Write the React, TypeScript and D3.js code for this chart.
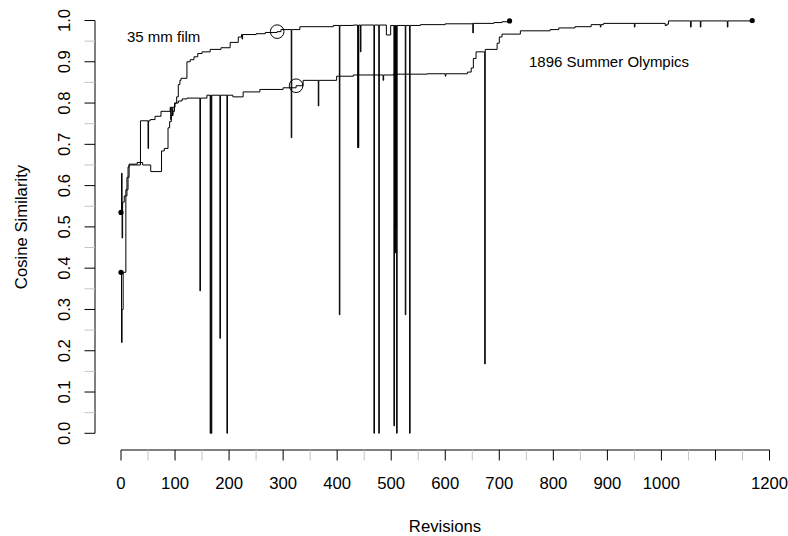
import React from "react";
import * as d3 from "d3";

// ---- axis ticks ----
const xMajorTicks = [0, 100, 200, 300, 400, 500, 600, 700, 800, 900, 1000, 1100, 1200];
const xTickLabels = ["0", "100", "200", "300", "400", "500", "600", "700", "800", "900", "1000", "", "1200"];
const xMinorTicks = [50, 150, 250, 350, 450, 550, 650, 750, 850, 950, 1050, 1150];
const yMajorTicks = [0, 0.1, 0.2, 0.3, 0.4, 0.5, 0.6, 0.7, 0.8, 0.9, 1.0];
const yTickLabels = ["0.0", "0.1", "0.2", "0.3", "0.4", "0.5", "0.6", "0.7", "0.8", "0.9", "1.0"];
const yMinorTicks = [0.05, 0.15, 0.25, 0.35, 0.45, 0.55, 0.65, 0.75, 0.85, 0.95];

// ---- series: "35 mm film" ----
const filmRev = [0, 1, 2, 3, 6, 9, 11, 13, 15, 30, 40, 55, 75, 80, 87, 90, 93, 96, 99, 103, 106, 109, 111, 122, 128, 135, 142, 150, 165, 185, 202, 217, 223, 250, 267, 289, 296, 331, 393, 430, 491, 499, 554, 600, 650, 690, 705, 719];
const filmVal = [0.535, 0.63, 0.473, 0.56, 0.575, 0.59, 0.62, 0.645, 0.652, 0.656, 0.65, 0.634, 0.684, 0.69, 0.74, 0.755, 0.77, 0.78, 0.8, 0.815, 0.845, 0.855, 0.86, 0.9, 0.905, 0.912, 0.92, 0.924, 0.93, 0.934, 0.947, 0.96, 0.966, 0.968, 0.971, 0.973, 0.978, 0.985, 0.988, 0.989, 0.965, 0.988, 0.99, 0.992, 0.993, 0.995, 0.997, 0.999];
const filmDipRev = [224, 315, 404, 438, 439, 443, 468, 477, 505, 507, 508, 510, 526, 534, 651];
const filmDipVal = [0.955, 0.716, 0.287, 0.692, 0.692, 0.924, 0.0, 0.0, 0.018, 0.437, 0.5, 0.0, 0.287, 0.0, 0.97];

// ---- series: "1896 Summer Olympics" ----
const olyRev = [0, 1, 2, 4, 9, 11, 13, 15, 36, 54, 63, 74, 91, 100, 106, 113, 122, 159, 207, 226, 257, 300, 324, 337, 399, 430, 504, 567, 641, 648, 652, 657, 674, 696, 700, 705, 739, 794, 810, 840, 870, 893, 1007, 1010, 1013, 1168];
const olyVal = [0.39, 0.22, 0.3, 0.39, 0.575, 0.59, 0.62, 0.65, 0.757, 0.76, 0.768, 0.78, 0.79, 0.8, 0.805, 0.81, 0.812, 0.819, 0.815, 0.827, 0.833, 0.837, 0.842, 0.855, 0.865, 0.868, 0.87, 0.871, 0.875, 0.885, 0.908, 0.924, 0.93, 0.945, 0.96, 0.967, 0.975, 0.978, 0.982, 0.985, 0.99, 0.993, 0.988, 0.991, 0.999, 1.0];
const olyDipRev = [50, 92, 95, 146, 165, 167, 183, 196, 365, 485, 600, 673, 887, 950, 1054, 1072, 1122];
const olyDipVal = [0.69, 0.76, 0.77, 0.345, 0.0, 0.0, 0.23, 0.0, 0.793, 0.855, 0.865, 0.168, 0.984, 0.984, 0.984, 0.984, 0.984];

// ---- highlighted points (open circles) ----
const circleRev = [289, 324];
const circleVal = [0.973, 0.842];

const seriesNames = ["35 mm film", "1896 Summer Olympics"];

type P = [number, number];

function buildSeries(rev: number[], val: number[], dipRev: number[], dipVal: number[]): P[] {
  const base: P[] = rev.map((r, i) => [r, val[i]]);
  const baseAt = (r: number) => {
    let v = base[0][1];
    for (const p of base) {
      if (p[0] <= r) v = p[1];
      else break;
    }
    return v;
  };
  const pts: P[] = [...base];
  dipRev.forEach((r, i) => {
    pts.push([r, dipVal[i]]);
    pts.push([r + 1, baseAt(r + 1)]);
  });
  // keep dips after base points at same revision
  const order = pts.map((p, i) => ({ p, i }));
  order.sort((a, b) => (a.p[0] - b.p[0]) || (a.i - b.i));
  const out: P[] = [];
  for (const o of order) {
    if (out.length && out[out.length - 1][0] === o.p[0] && o.i < base.length) {
      // base point coinciding with a dip return: keep the later (dip) value ordering
      out.push(o.p);
    } else out.push(o.p);
  }
  return out;
}

export default function App() {
  const W = 788;
  const H = 536;
  const x = d3.scaleLinear().domain([0, 1200]).range([121, 769.5]);
  const y = d3.scaleLinear().domain([0, 1]).range([433.3, 20.5]);
  const line = d3
    .line<P>()
    .x((d) => x(d[0]))
    .y((d) => y(d[1]))
    .curve(d3.curveStepAfter);

  const film = buildSeries(filmRev, filmVal, filmDipRev, filmDipVal);
  const oly = buildSeries(olyRev, olyVal, olyDipRev, olyDipVal);
  const series = [film, oly];

  const font = "'Liberation Sans', Arial, Helvetica, sans-serif";
  const axisY = 450;
  const axisX = 95;
  const tickLen = 10.5;

  return (
    <svg
      width={W}
      height={H}
      viewBox={`0 0 ${W} ${H}`}
      style={{ position: "absolute", left: 0, top: 0, background: "#fff" }}
      fontFamily={font}
    >
      <rect x={0} y={0} width={W} height={H} fill="#fff" />

      {/* series lines */}
      {series.map((s, i) => (
        <path key={i} d={line(s) || ""} fill="none" stroke="#000" strokeWidth={1} />
      ))}

      {/* start / end dots */}
      {series.map((s, i) => (
        <g key={"d" + i}>
          <circle cx={x(s[0][0])} cy={y(s[0][1])} r={2.6} fill="#000" />
          <circle cx={x(s[s.length - 1][0])} cy={y(s[s.length - 1][1])} r={2.6} fill="#000" />
        </g>
      ))}

      {/* open circles */}
      {circleRev.map((r, i) => (
        <circle key={"c" + i} cx={x(r)} cy={y(circleVal[i])} r={6.8} fill="none" stroke="#000" strokeWidth={1} />
      ))}

      {/* series labels */}
      <text x={127} y={42} fontSize={15} fill="#000">{seriesNames[0]}</text>
      <text x={529} y={67.3} fontSize={15} fill="#000">{seriesNames[1]}</text>

      {/* x axis */}
      <line x1={x(0)} x2={x(1200)} y1={axisY} y2={axisY} stroke="#000" strokeWidth={1} />
      {xMinorTicks.map((t) => (
        <line key={"xm" + t} x1={x(t)} x2={x(t)} y1={axisY} y2={axisY + tickLen} stroke="#c4c4c4" strokeWidth={1} />
      ))}
      {xMajorTicks.map((t) => (
        <line key={"xt" + t} x1={x(t)} x2={x(t)} y1={axisY} y2={axisY + tickLen} stroke="#000" strokeWidth={1} />
      ))}
      {xMajorTicks.map((t, i) => (
        <text key={"xl" + t} x={x(t)} y={489.3} fontSize={16.7} textAnchor="middle" fill="#000">
          {xTickLabels[i]}
        </text>
      ))}
      <text x={445} y={531.5} fontSize={16.7} textAnchor="middle" fill="#000">Revisions</text>

      {/* y axis */}
      <line x1={axisX} x2={axisX} y1={y(0)} y2={y(1)} stroke="#000" strokeWidth={1} />
      {yMinorTicks.map((t) => (
        <line key={"ym" + t} x1={axisX - tickLen} x2={axisX} y1={y(t)} y2={y(t)} stroke="#c4c4c4" strokeWidth={1} />
      ))}
      {yMajorTicks.map((t) => (
        <line key={"yt" + t} x1={axisX - tickLen} x2={axisX} y1={y(t)} y2={y(t)} stroke="#000" strokeWidth={1} />
      ))}
      {yMajorTicks.map((t, i) => (
        <text
          key={"yl" + t}
          transform={`translate(70,${y(t)}) rotate(-90)`}
          fontSize={16.7}
          textAnchor="middle"
          fill="#000"
        >
          {yTickLabels[i]}
        </text>
      ))}
      <text
        transform={`translate(27,227) rotate(-90)`}
        fontSize={16.7}
        textAnchor="middle"
        fill="#000"
      >
        Cosine Similarity
      </text>
    </svg>
  );
}
